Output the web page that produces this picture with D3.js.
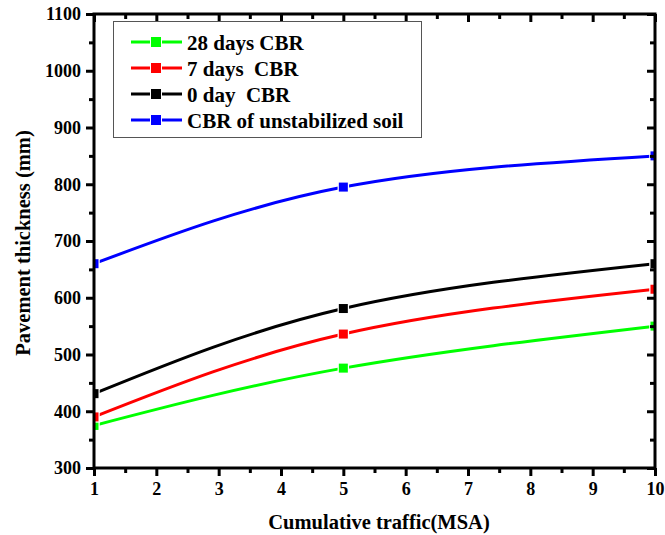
<!DOCTYPE html>
<html>
<head>
<meta charset="utf-8">
<script src="https://cdn.jsdelivr.net/npm/d3@7"></script>
<style>
  body { margin: 0; background: #fff; }
  text { font-family: "Liberation Serif", "Times New Roman", serif; font-weight: bold; }
</style>
</head>
<body>
<svg width="665" height="535"></svg>
<script>
// data
let traffic = [1, 5, 10];
let cbr28 = [375, 476, 550];
let cbr7 = [390, 536, 615];
let cbr0 = [431, 581, 660];
let cbrSoil = [660, 795, 850];
let seriesNames = ['28 days CBR', '7 days  CBR', '0 day  CBR', 'CBR of unstabilized soil'];
let seriesColors = ['#00ff00', '#ff0000', '#000000', '#0000ff'];
let xTicks = [1, 2, 3, 4, 5, 6, 7, 8, 9, 10];
let yTicks = [300, 400, 500, 600, 700, 800, 900, 1000, 1100];

let series = [cbr28, cbr7, cbr0, cbrSoil];

let svg = d3.select('svg');
let pLeft = 94, pRight = 655, pTop = 14, pBottom = 468;

let x = d3.scaleLinear().domain([1, 10]).range([pLeft, pRight]);
let y = d3.scaleLinear().domain([300, 1100]).range([pBottom, pTop]);

let xMinor = d3.range(1.5, 10, 1);
let yMinor = d3.range(350, 1100, 100);

// clip for the marks
svg.append('clipPath').attr('id', 'plot')
  .append('rect')
  .attr('x', pLeft).attr('y', pTop)
  .attr('width', pRight - pLeft).attr('height', pBottom - pTop);

let g = svg.append('g').attr('clip-path', 'url(#plot)');

let line = d3.line()
  .x((d, i) => x(traffic[i]))
  .y(d => y(d))
  .curve(d3.curveNatural);

series.forEach(function (vals, s) {
  g.append('path')
    .attr('d', line(vals))
    .attr('fill', 'none')
    .attr('stroke', seriesColors[s])
    .attr('stroke-width', 3);
});

series.forEach(function (vals, s) {
  g.selectAll(null)
    .data(vals)
    .enter().append('rect')
    .attr('x', (d, i) => x(traffic[i]) - 4.5)
    .attr('y', d => y(d) - 4.5)
    .attr('width', 9).attr('height', 9)
    .attr('fill', seriesColors[s])
    .attr('stroke', '#fff')
    .attr('stroke-width', 2.5)
    .style('paint-order', 'stroke');
});

// axes
function styleAxis(sel) {
  sel.select('.domain').remove();
  sel.selectAll('line').attr('stroke', '#000').attr('stroke-width', 3);
  sel.selectAll('text').attr('font-size', 18).attr('fill', '#000');
}

svg.append('g').attr('transform', 'translate(0,' + pBottom + ')')
  .call(d3.axisBottom(x).tickValues(xTicks).tickSize(8).tickPadding(6).tickFormat(d3.format('d')))
  .call(styleAxis);
svg.append('g').attr('transform', 'translate(0,' + pBottom + ')')
  .call(d3.axisBottom(x).tickValues(xMinor).tickSize(5).tickFormat(''))
  .call(styleAxis);

svg.append('g').attr('transform', 'translate(' + pLeft + ',0)')
  .call(d3.axisLeft(y).tickValues(yTicks).tickSize(8).tickPadding(5).tickFormat(d3.format('d')))
  .call(styleAxis);
svg.append('g').attr('transform', 'translate(' + pLeft + ',0)')
  .call(d3.axisLeft(y).tickValues(yMinor).tickSize(5).tickFormat(''))
  .call(styleAxis);

// mirror axes with inward ticks
svg.append('g').attr('transform', 'translate(0,' + pTop + ')')
  .call(d3.axisBottom(x).tickValues(xTicks).tickSize(8).tickFormat(''))
  .call(styleAxis);
svg.append('g').attr('transform', 'translate(0,' + pTop + ')')
  .call(d3.axisBottom(x).tickValues(xMinor).tickSize(5).tickFormat(''))
  .call(styleAxis);
svg.append('g').attr('transform', 'translate(' + pRight + ',0)')
  .call(d3.axisLeft(y).tickValues(yTicks).tickSize(8).tickFormat(''))
  .call(styleAxis);
svg.append('g').attr('transform', 'translate(' + pRight + ',0)')
  .call(d3.axisLeft(y).tickValues(yMinor).tickSize(5).tickFormat(''))
  .call(styleAxis);

svg.append('rect')
  .attr('x', pLeft).attr('y', pTop)
  .attr('width', pRight - pLeft).attr('height', pBottom - pTop)
  .attr('fill', 'none').attr('stroke', '#000').attr('stroke-width', 3);

// axis titles
svg.append('text')
  .attr('x', 379).attr('y', 529)
  .attr('text-anchor', 'middle').attr('font-size', 20.5)
  .text('Cumulative traffic(MSA)');

svg.append('text')
  .attr('transform', 'translate(30,' + 243 + ') rotate(-90)')
  .attr('text-anchor', 'middle').attr('font-size', 20.5)
  .text('Pavement thickness (mm)');

// legend
let legend = svg.append('g');
legend.append('rect')
  .attr('x', 113.5).attr('y', 21.5).attr('width', 308).attr('height', 116)
  .attr('fill', '#fff').attr('stroke', '#555').attr('stroke-width', 1);

let item = legend.selectAll('g.item')
  .data(seriesNames)
  .enter().append('g')
  .attr('transform', (d, i) => 'translate(0,' + (42 + i * 26) + ')');

item.append('line')
  .attr('x1', 131).attr('x2', 182)
  .attr('stroke', (d, i) => seriesColors[i]).attr('stroke-width', 3);
item.append('rect')
  .attr('x', 151).attr('y', -5).attr('width', 10).attr('height', 10)
  .attr('fill', (d, i) => seriesColors[i])
  .attr('stroke', '#fff').attr('stroke-width', 2)
  .style('paint-order', 'stroke');
item.append('text')
  .attr('x', 187).attr('y', 7.5)
  .attr('font-size', 21)
  .style('white-space', 'pre')
  .text(d => d);
</script>
</body>
</html>
